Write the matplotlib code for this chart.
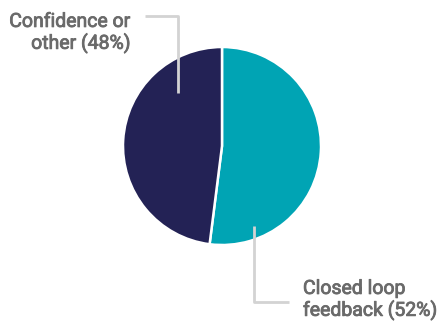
import matplotlib
matplotlib.use("Agg")
import matplotlib.pyplot as plt
import matplotlib.patheffects as pe

labels = ["Closed loop\nfeedback (52%)", "Confidence or\nother (48%)"]
shares = [52, 48]
colors = ["#00A4B4", "#232255"]

plt.rcParams["font.family"] = ["Roboto", "DejaVu Sans"]

fig = plt.figure(figsize=(4.4, 3.23), dpi=100)
ax = fig.add_axes([0, 0, 1, 1])

# y axis is inverted below, so angles are mirrored: start at -90 and go counterclockwise
ax.pie(shares, colors=colors, startangle=-90, counterclock=True,
       center=(222, 146), radius=99,
       wedgeprops={"edgecolor": "white", "linewidth": 1.8})
ax.set_xlim(0, 440)
ax.set_ylim(323, 0)
ax.set_aspect("equal")
ax.axis("off")

line_color = "#d3d3d3"
text_color = "#6a6a6a"
# a thin stroke gives the regular weight a medium look
thick = [pe.withStroke(linewidth=0.6, foreground=text_color)]

# leader: Confidence or other
ax.plot([178, 178, 145], [93, 16, 16], color=line_color, lw=2, solid_capstyle="butt")
ax.text(131, 33, labels[1], ha="right", va="center", fontsize=14,
        color=text_color, linespacing=1.2, path_effects=thick)

# leader: Closed loop feedback
ax.plot([254, 254, 289], [226, 302, 302], color=line_color, lw=2, solid_capstyle="butt")
ax.text(303, 300, labels[0], ha="left", va="center", fontsize=14,
        color=text_color, linespacing=1.2, path_effects=thick)

fig.savefig("out.png", dpi=100)
